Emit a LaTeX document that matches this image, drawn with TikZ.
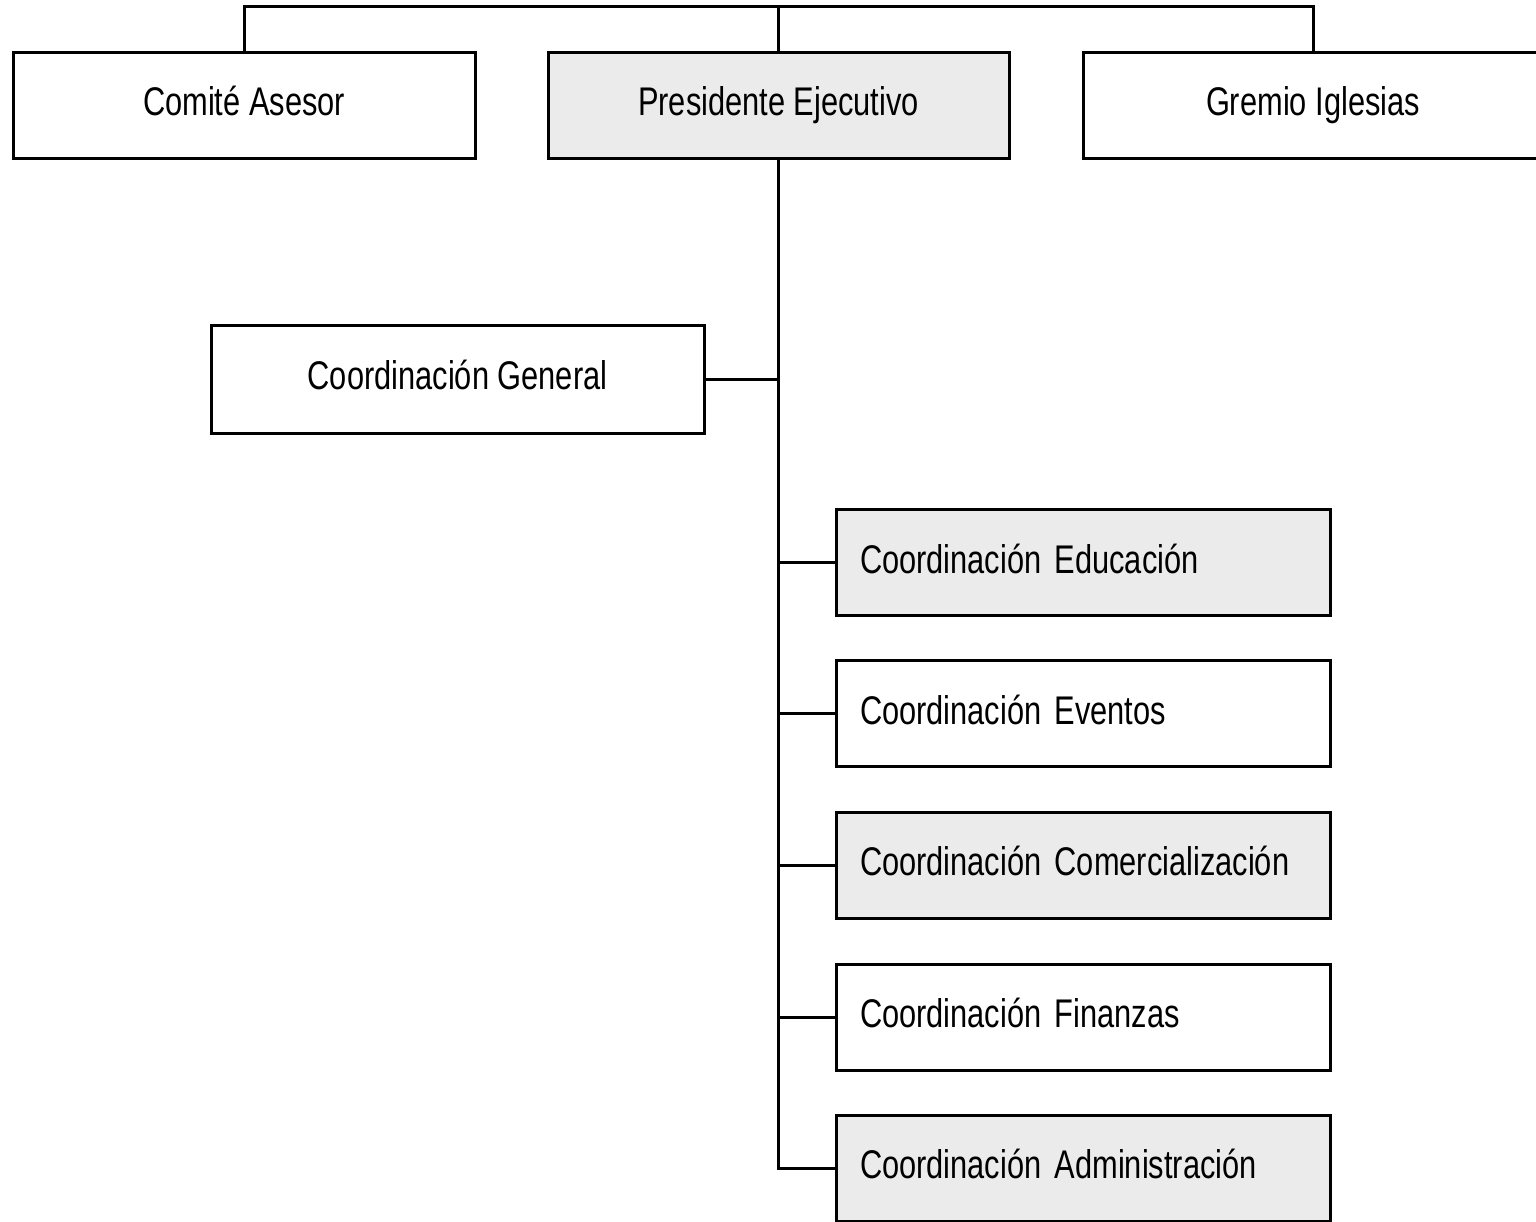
\documentclass[tikz,border=0pt]{standalone}
\usepackage{fontspec}
\setmainfont{Liberation Sans}[FakeStretch=0.77]
\begin{document}
\begin{tikzpicture}[x=0.5pt,y=-0.5pt,
  box/.style={draw=black, line width=1.5pt, rectangle, inner sep=0pt,
    minimum height=53pt, text height=15pt, text depth=4.5pt,
    font=\fontsize{20}{24}\selectfont},
  grey/.style={fill=gray!16},
  leftbox/.style={box, minimum width=247pt, text width=223pt, inner xsep=12pt, align=left},
  link/.style={line width=1.5pt}]
\useasboundingbox (0,0) rectangle (1536,1221);
\clip (0,0) rectangle (1536,1221);
\fill[white] (0,0) rectangle (1536,1221);

\node[box, minimum width=231pt] (com) at (244,105) {Comité Asesor};
\node[box, grey, minimum width=230.5pt] (pre) at (778.5,105) {Presidente Ejecutivo};
\node[box, minimum width=230pt] (gre) at (1313,105) {Gremio Iglesias};
\node[box, minimum width=246.5pt, minimum height=54pt] (gen) at (457.5,379) {Coordinación General};

\node[leftbox, grey] (edu) at (1083,562.5) {Coordinación Educación};
\node[leftbox] (eve) at (1083,713.5) {Coordinación Eventos};
\node[leftbox, grey] (com2) at (1083,865) {Coordinación Comercialización};
\node[leftbox] (fin) at (1083,1017) {Coordinación Finanzas};
\node[leftbox, grey] (adm) at (1083,1168) {Coordinación Administración};

\coordinate (topy) at (0,6);
\draw[link] (com.north) -- (com.north |- topy) -- (gre.north |- topy) -- (gre.north);
\draw[link] (pre.north) -- (pre.north |- topy);
\draw[link] (pre.south) -- (pre.south |- adm.west) -- (adm.west);
\draw[link] (gen.east) -- (gen.east -| pre.south);
\foreach \n in {edu,eve,com2,fin}
  \draw[link] (\n.west) -- (\n.west -| pre.south);
\end{tikzpicture}
\end{document}
